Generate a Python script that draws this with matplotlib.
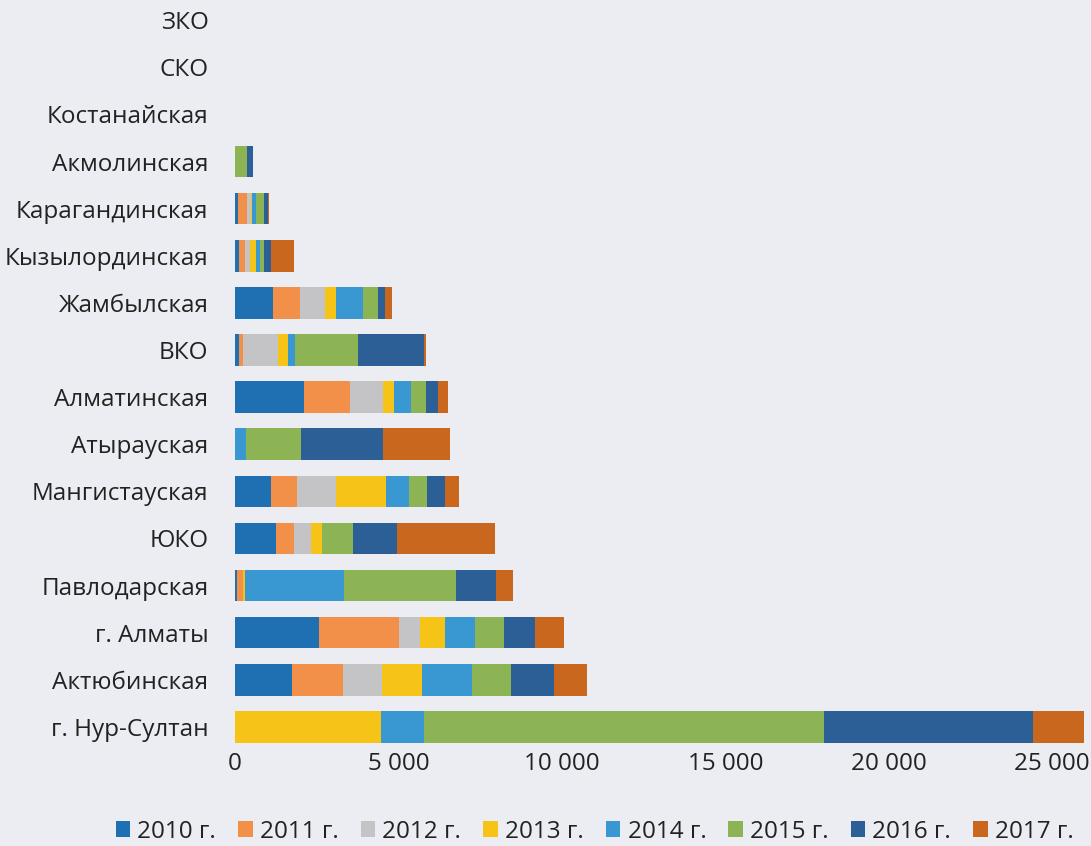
import matplotlib
matplotlib.use("Agg")
import matplotlib.pyplot as plt
import numpy as np

plt.rcParams['font.family'] = ['Open Sans', 'DejaVu Sans']

# регионы сверху вниз
regions = ["ЗКО", "СКО", "Костанайская", "Акмолинская", "Карагандинская",
           "Кызылординская", "Жамбылская", "ВКО", "Алматинская", "Атырауская",
           "Мангистауская", "ЮКО", "Павлодарская", "г. Алматы", "Актюбинская",
           "г. Нур-Султан"]

years = ["2010 г.", "2011 г.", "2012 г.", "2013 г.", "2014 г.", "2015 г.", "2016 г.", "2017 г."]

# значения по годам (тыс.), в порядке regions
v2010 = [0, 0, 0, 0, 0.10, 0.12, 1.15, 0.12, 2.10, 0.00, 1.10, 1.25, 0.05, 2.57, 1.73, 0]
v2011 = [0, 0, 0, 0, 0.28, 0.20, 0.85, 0.13, 1.41, 0.00, 0.79, 0.56, 0.20, 2.45, 1.58, 0]
v2012 = [0, 0, 0, 0, 0.12, 0.15, 0.74, 1.07, 1.02, 0.00, 1.19, 0.52, 0.00, 0.63, 1.19, 0]
v2013 = [0, 0, 0, 0, 0.03, 0.18, 0.36, 0.31, 0.34, 0.00, 1.53, 0.33, 0.05, 0.76, 1.22, 4.48]
v2014 = [0, 0, 0, 0, 0.10, 0.12, 0.82, 0.22, 0.51, 0.34, 0.71, 0.00, 3.02, 0.92, 1.54, 1.29]
v2015 = [0, 0, 0, 0.37, 0.27, 0.11, 0.46, 1.92, 0.45, 1.67, 0.54, 0.94, 3.45, 0.90, 1.17, 12.24]
v2016 = [0, 0, 0, 0.17, 0.12, 0.22, 0.20, 2.02, 0.39, 2.52, 0.56, 1.37, 1.21, 0.96, 1.34, 6.41]
v2017 = [0, 0, 0, 0.00, 0.02, 0.72, 0.22, 0.04, 0.31, 2.06, 0.44, 2.98, 0.53, 0.86, 1.00, 1.56]

colors = ["#1f70b3", "#f28f48", "#c4c4c6", "#f6c416", "#3998d2", "#8cb455", "#2b5f95", "#c9671f"]

series = [v2010, v2011, v2012, v2013, v2014, v2015, v2016, v2017]

bg = "#ecedf2"
fig = plt.figure(figsize=(10.91, 8.46), dpi=100, facecolor=bg)
ax = fig.add_axes([0.2154, 0.1129, 0.779, 0.8871])
ax.set_facecolor(bg)

y = np.arange(len(regions))[::-1]
left = np.zeros(len(regions))
for vals, col, lab in zip(series, colors, years):
    vals = np.array(vals) * 1000
    ax.barh(y, vals, left=left, height=0.67, color=col, label=lab, linewidth=0)
    left += vals

ax.set_xlim(0, 26000)
ax.set_ylim(-0.5, 15.43)
ax.set_yticks(y)
ax.set_yticklabels(regions, fontsize=17.5, color="#222222")
ax.set_xticks([0, 5000, 10000, 15000, 20000, 25000])
ax.set_xticklabels(["0", "5 000", "10 000", "15 000", "20 000", "25 000"], fontsize=17.5, color="#222222")
ax.tick_params(axis="y", length=0, pad=19)
ax.tick_params(axis="x", length=0, pad=1)
for s in ax.spines.values():
    s.set_visible(False)

fig.legend(loc="center", bbox_to_anchor=(0.545, 0.017), ncol=8, frameon=False,
           fontsize=17.5, handlelength=0.6, handleheight=0.6, handletextpad=0.3,
           columnspacing=0.9, labelcolor="#222222")

fig.savefig("out.png", dpi=100, facecolor=bg)
